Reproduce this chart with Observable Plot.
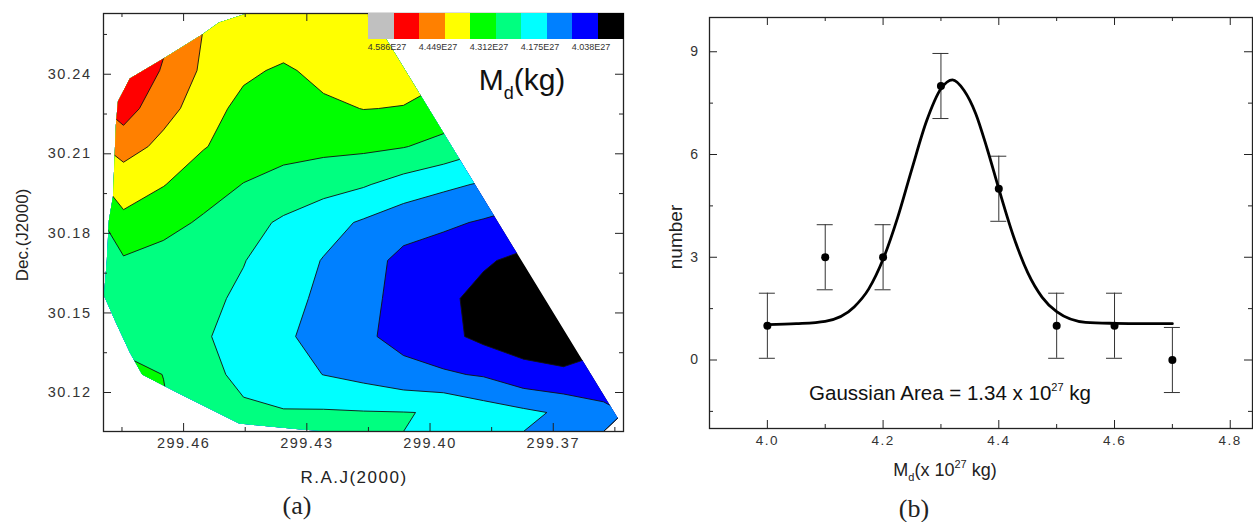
<!DOCTYPE html>
<html><head><meta charset="utf-8">
<script src="https://cdn.jsdelivr.net/npm/d3@7"></script>
<script src="https://cdn.jsdelivr.net/npm/@observablehq/plot@0.6"></script>
<style>
html,body{margin:0;padding:0;background:#fff;overflow:hidden;width:1253px;height:522px;}
#root{position:relative;width:1253px;height:522px;font-family:"Liberation Sans",Arial,sans-serif;color:#222;}
#root svg{position:absolute;top:0;overflow:visible;}
.tick-lbl text{letter-spacing:1.5px;}
.abs{position:absolute;white-space:nowrap;line-height:1;}
.c{transform:translate(-50%,-50%);}
.rot{transform:translate(-50%,-50%) rotate(-90deg);}
</style></head><body><div id="root"></div>
<script>
// ================= DATA =================
// (a) dust-mass map: grid of M_d values (x 10^27 kg), rows top (north) -> bottom, columns east (left) -> west (right)
const mdGrid = [
  [4.600, 4.531, 4.447, 4.428, 4.422, 4.415, 4.422, 4.422, 4.408, 4.415, 4.401, 4.394, 4.380],
  [4.579, 4.511, 4.437, 4.394, 4.370, 4.401, 4.415, 4.408, 4.394, 4.387, 4.374, 4.360, 4.346],
  [4.545, 4.476, 4.412, 4.360, 4.346, 4.367, 4.382, 4.378, 4.353, 4.333, 4.311, 4.298, 4.285],
  [4.483, 4.428, 4.384, 4.353, 4.333, 4.329, 4.326, 4.315, 4.291, 4.257, 4.230, 4.209, 4.196],
  [4.401, 4.383, 4.345, 4.310, 4.290, 4.270, 4.250, 4.216, 4.189, 4.168, 4.148, 4.134, 4.120],
  [4.370, 4.336, 4.302, 4.269, 4.233, 4.199, 4.167, 4.134, 4.118, 4.100, 4.079, 4.065, 4.059],
  [4.304, 4.285, 4.265, 4.246, 4.208, 4.172, 4.133, 4.089, 4.072, 4.045, 4.024, 4.017, 4.017],
  [4.291, 4.278, 4.259, 4.232, 4.198, 4.161, 4.124, 4.087, 4.050, 4.021, 4.007, 4.004, 4.004],
  [4.285, 4.274, 4.250, 4.218, 4.185, 4.152, 4.117, 4.086, 4.057, 4.021, 4.007, 4.011, 4.011],
  [4.339, 4.311, 4.263, 4.228, 4.201, 4.174, 4.154, 4.127, 4.115, 4.100, 4.059, 4.045, 4.072],
  [4.346, 4.319, 4.271, 4.254, 4.248, 4.250, 4.247, 4.245, 4.240, 4.209, 4.189, 4.165, 4.120]
];
const gridRA  = [299.4795, 299.3529];   // grid extent, left -> right
const gridDec = [30.2629, 30.1053];     // grid extent, top -> bottom
// observed (mapped) area outline
const coverageRA  = [299.4731, 299.4653, 299.4555, 299.4514, 299.4424, 299.4149, 299.3520, 299.4176, 299.4314, 299.4465, 299.4621, 299.4701, 299.4731, 299.4765, 299.4794, 299.4787, 299.4782, 299.4772, 299.4769, 299.4765, 299.4760];
const coverageDec = [30.2384, 30.2456, 30.2550, 30.2595, 30.2640, 30.2640, 30.1045, 30.1045, 30.1061, 30.1083, 30.1204, 30.1268, 30.1351, 30.1464, 30.1566, 30.1698, 30.1849, 30.1939, 30.2052, 30.2207, 30.2297];
const levels = [4.038, 4.1065, 4.175, 4.2435, 4.312, 4.3805, 4.449, 4.5175, 4.586];
const bandColors = ["#000000", "#0000ff", "#0080ff", "#00ffff", "#00ff80", "#00ff00", "#ffff00", "#ff8000", "#ff0000", "#c0c0c0"]; // low -> high
const levelLabels = ["4.586E27", "4.449E27", "4.312E27", "4.175E27", "4.038E27"];
const raTicks = [299.46, 299.43, 299.40, 299.37];
const raMinor = [299.475, 299.445, 299.415, 299.385, 299.355];
const decTicks = [30.12, 30.15, 30.18, 30.21, 30.24];
const decMinor = [30.135, 30.165, 30.195, 30.225, 30.255];

// (b) histogram of M_d with Gaussian fit
const mdBins = [4.0, 4.1, 4.2, 4.3, 4.4, 4.5, 4.6, 4.7];
const counts = [1, 3, 3, 8, 5, 1, 1, 0];
const countErr = [0.95, 0.95, 0.95, 0.95, 0.95, 0.95, 0.95, 0.95];
const fitX = [4.00, 4.05, 4.10, 4.15, 4.175, 4.20, 4.225, 4.25, 4.275, 4.30, 4.32, 4.34, 4.36, 4.38, 4.40, 4.425, 4.45, 4.475, 4.50, 4.55, 4.60, 4.65, 4.70];
const fitY = [1.03, 1.06, 1.13, 1.55, 2.07, 2.94, 4.15, 5.59, 6.97, 7.92, 8.18, 7.87, 7.20, 6.16, 5.00, 3.63, 2.55, 1.83, 1.41, 1.10, 1.07, 1.06, 1.06];
const mdTicks = [4.0, 4.2, 4.4, 4.6, 4.8];
const mdMinor = [4.1, 4.3, 4.5, 4.7];
const numTicks = [0, 3, 6, 9];
const numMinor = [-1.5, 1.5, 4.5, 7.5];

// ================= LAYOUT =================
const root = document.getElementById("root");
const FONT = '"Liberation Sans", Arial, sans-serif';
const tickColor = "#222";

function frameTicks(fw, fh, xMaj, xMin, yMaj, yMin, maj, min) {
  const o = {stroke: tickColor, strokeWidth: 1};
  return [
    Plot.ruleY(yMaj, {...o, insetRight: fw - maj}), Plot.ruleY(yMin, {...o, insetRight: fw - min}),
    Plot.ruleY(yMaj, {...o, insetLeft: fw - maj}),  Plot.ruleY(yMin, {...o, insetLeft: fw - min}),
    Plot.ruleX(xMaj, {...o, insetTop: fh - maj}),   Plot.ruleX(xMin, {...o, insetTop: fh - min}),
    Plot.ruleX(xMaj, {...o, insetBottom: fh - maj}),Plot.ruleX(xMin, {...o, insetBottom: fh - min})
  ];
}

// ---- panel (a) ----
const LW = 640, LH = 460, LF = {l: 103, t: 13, r: 623, b: 431};
const fwL = LF.r - LF.l, fhL = LF.b - LF.t;
const left = Plot.plot({
  width: LW, height: LH,
  marginLeft: LF.l, marginRight: LW - LF.r, marginTop: LF.t, marginBottom: LH - LF.b,
  x: {domain: gridRA},
  y: {domain: [gridDec[1], gridDec[0]]},
  color: {type: "threshold", domain: levels, range: bandColors},
  style: {fontFamily: FONT, background: "transparent", color: "#333"},
  marks: [
    Plot.contour(mdGrid.flat(), {
      width: mdGrid[0].length, height: mdGrid.length,
      x1: gridRA[0], x2: gridRA[1], y1: gridDec[0], y2: gridDec[1],
      thresholds: [3.9, ...levels], fill: Plot.identity, stroke: "#111", strokeWidth: 0.9
    }),
    Plot.frame({stroke: "#222", strokeWidth: 1.3}),
    ...frameTicks(fwL, fhL, raTicks, raMinor, decTicks, decMinor, 8, 4),
    Plot.axisY(decTicks, {anchor: "left", tickSize: 0, tickPadding: 12, tickFormat: d3.format(".2f"), fontSize: 14.5, label: null, className: "tick-lbl"}),
    Plot.axisX(raTicks, {anchor: "bottom", tickSize: 0, tickPadding: 6, tickFormat: d3.format(".2f"), fontSize: 14.5, label: null, className: "tick-lbl"})
  ]
});
left.style.left = "0px";
root.appendChild(left);

// clip the filled contours to the mapped area
{
  const xs = left.scale("x"), ys = left.scale("y");
  const pts = coverageRA.map((ra, i) => xs.apply(ra).toFixed(2) + "," + ys.apply(coverageDec[i]).toFixed(2)).join(" ");
  const ns = "http://www.w3.org/2000/svg";
  const defs = document.createElementNS(ns, "defs");
  const cp = document.createElementNS(ns, "clipPath");
  cp.setAttribute("id", "coverage");
  const poly = document.createElementNS(ns, "polygon");
  poly.setAttribute("points", pts);
  cp.appendChild(poly); defs.appendChild(cp);
  left.insertBefore(defs, left.firstChild);
  const g = left.querySelector('g[aria-label="contour"]');
  if (g) g.setAttribute("clip-path", "url(#coverage)");
}

// ---- panel (b) ----
const R0 = 640, RW = 613, RH = 460, RF = {l: 709 - R0, t: 17, r: 1252 - R0, b: 428};
const fwR = RF.r - RF.l, fhR = RF.b - RF.t;
const pts = mdBins.map((x, i) => ({x, n: counts[i], lo: counts[i] - countErr[i], hi: counts[i] + countErr[i]}));
const fit = fitX.map((x, i) => ({x, y: fitY[i]}));
const xDomR = [3.9, 3.9 + (RF.r - RF.l) / 578.6];
const capHalf = 8 / 578.6;
const right = Plot.plot({
  width: RW, height: RH,
  marginLeft: RF.l, marginRight: RW - RF.r, marginTop: RF.t, marginBottom: RH - RF.b,
  x: {domain: xDomR},
  y: {domain: [-2, 10]},
  style: {fontFamily: FONT, background: "transparent", color: "#333"},
  marks: [
    Plot.frame({stroke: "#222", strokeWidth: 1.3}),
    ...frameTicks(fwR, fhR, mdTicks, mdMinor, numTicks, numMinor, 8, 4),
    Plot.axisY(numTicks, {anchor: "left", tickSize: 0, tickPadding: 10, fontSize: 14, label: null, className: "tick-lbl"}),
    Plot.axisX(mdTicks, {anchor: "bottom", tickSize: 0, tickPadding: 7, tickFormat: d3.format(".1f"), fontSize: 13.5, label: null, className: "tick-lbl"}),
    Plot.ruleX(pts, {x: "x", y1: "lo", y2: "hi", stroke: "#333", strokeWidth: 1}),
    Plot.ruleY(pts, {y: "lo", x1: d => d.x - capHalf, x2: d => d.x + capHalf, stroke: "#333", strokeWidth: 1}),
    Plot.ruleY(pts, {y: "hi", x1: d => d.x - capHalf, x2: d => d.x + capHalf, stroke: "#333", strokeWidth: 1}),
    Plot.line(fit, {x: "x", y: "y", curve: "monotone-x", stroke: "#000", strokeWidth: 2.8}),
    Plot.dot(pts, {x: "x", y: "n", r: 4, fill: "#000"})
  ]
});
right.style.left = R0 + "px";
root.appendChild(right);

// ---- colour bar (legend) ----
const cbX = 368, cbY = 13, cbW = 25.5, cbH = 26;
[...bandColors].reverse().forEach((c, i) => {
  const d = document.createElement("div");
  d.className = "abs";
  Object.assign(d.style, {left: (cbX + i * cbW) + "px", top: cbY + "px", width: (cbW + 0.6) + "px", height: cbH + "px", background: c});
  root.appendChild(d);
});
levelLabels.forEach((t, k) => {
  const d = document.createElement("div");
  d.className = "abs c";
  d.textContent = t;
  Object.assign(d.style, {left: (cbX + (2 * k + 1) * cbW - 6.5) + "px", top: "47px", fontSize: "9px", color: "#333"});
  root.appendChild(d);
});

// ---- texts ----
function addText(html, x, y, cls, style) {
  const d = document.createElement("div");
  d.className = "abs " + cls;
  d.innerHTML = html;
  Object.assign(d.style, {left: x + "px", top: y + "px"}, style || {});
  root.appendChild(d);
}
addText('M<span style="font-size:18px;position:relative;top:9px">d</span>(kg)', 522, 80, "c", {fontSize: "30px", color: "#111"});
addText("Dec.(J2000)", 22, 235, "rot", {fontSize: "17px"});
addText("R.A.J(2000)", 354, 477, "c", {fontSize: "17px", letterSpacing: "1.5px"});
addText("(a)", 297, 506, "c", {fontSize: "26px", fontFamily: '"Liberation Serif", "Times New Roman", serif'});
addText("number", 675, 237, "rot", {fontSize: "19px"});
addText('M<span style="font-size:11px;position:relative;top:5px">d</span>(x 10<span style="font-size:11px;position:relative;top:-8px">27</span> kg)', 945, 470, "c", {fontSize: "18px"});
addText("(b)", 914, 509, "c", {fontSize: "26px", fontFamily: '"Liberation Serif", "Times New Roman", serif'});
addText('Gaussian Area = 1.34 x 10<span style="font-size:11px;position:relative;top:-9px">27</span> kg', 950, 393, "c", {fontSize: "20.5px", color: "#111"});
</script></body></html>
